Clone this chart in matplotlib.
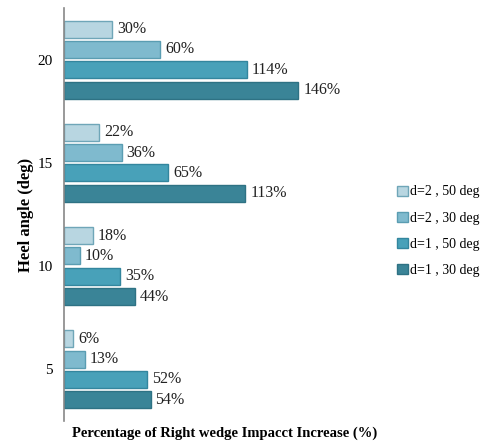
import matplotlib
matplotlib.use("Agg")
from matplotlib import pyplot as plt
import numpy as np

# heel angles and the four wedge set-ups (top to bottom inside each group)
angles = ["5", "10", "15", "20"]
series = ["d=2 , 50 deg", "d=2 , 30 deg", "d=1 , 50 deg", "d=1 , 30 deg"]
values = {
    "d=2 , 50 deg": [6, 18, 22, 30],
    "d=2 , 30 deg": [13, 10, 36, 60],
    "d=1 , 50 deg": [52, 35, 65, 114],
    "d=1 , 30 deg": [54, 44, 113, 146],
}
colors = ["#b8d6e1", "#7fbace", "#48a1b9", "#3a8497"]
edges = ["#6fa6b8", "#5a9db2", "#33869e", "#2e7284"]

plt.rcParams["font.family"] = ["Liberation Serif", "DejaVu Serif"]

fig = plt.figure(figsize=(4.87, 4.43), dpi=100)
ax = fig.add_axes([0.131, 0.05, 0.66, 0.932])

y = np.arange(len(angles))
step = 0.197
offsets = [1.5 * step, 0.5 * step, -0.5 * step, -1.5 * step]
for name, off, c, e in zip(series, offsets, colors, edges):
    bars = ax.barh(y + off, values[name], height=0.165, color=c,
                   edgecolor=e, linewidth=1.0, label=name)
    for b, v in zip(bars, values[name]):
        ax.text(b.get_width() + 3, b.get_y() + b.get_height() / 2, f"{v}%",
                va="center", ha="left", fontsize=11.5, color="#222222")

ax.set_xlim(0, 200)
ax.set_ylim(-0.5, 3.5)
ax.set_yticks(y)
ax.set_yticklabels(angles, fontsize=11)
ax.tick_params(axis="y", length=0, pad=8)
ax.set_xticks([])
for s in ["top", "right", "bottom"]:
    ax.spines[s].set_visible(False)
ax.spines["left"].set_color("#888888")
ax.spines["left"].set_linewidth(1.2)

fig.text(0.054, 0.515, "Heel angle (deg)", rotation=90, fontsize=12,
         fontweight="bold", ha="center", va="center")
fig.text(0.462, 0.022, "Percentage of Right wedge Impacct Increase (%)",
         fontsize=10.5, fontweight="bold", ha="center", va="center")

fig.legend(loc="center left", bbox_to_anchor=(0.79, 0.478), frameon=False,
           fontsize=10, handlelength=0.75, handleheight=0.75,
           handletextpad=0.2, labelspacing=0.95)

fig.savefig("out.png", dpi=100)
